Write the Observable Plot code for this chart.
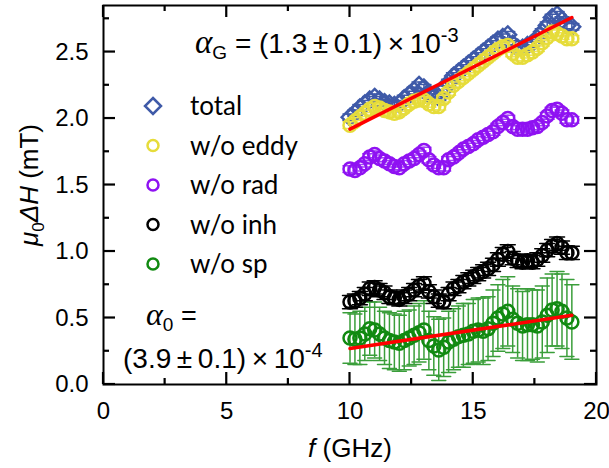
<!DOCTYPE html>
<html><head><meta charset="utf-8">
<script src="https://cdn.jsdelivr.net/npm/d3@7"></script>
<script src="https://cdn.jsdelivr.net/npm/@observablehq/plot@0.6"></script>
<style>body{margin:0;background:#fff} svg{display:block}</style>
</head><body><div id="chart"></div>
<script>
const freq = [10.0,10.2,10.4,10.6,10.8,11.0,11.2,11.4,11.6,11.8,12.0,12.2,12.4,12.6,12.8,13.0,13.2,13.4,13.6,13.8,14.0,14.2,14.4,14.6,14.8,15.0,15.2,15.4,15.6,15.8,16.0,16.2,16.4,16.6,16.8,17.0,17.2,17.4,17.6,17.8,18.0,18.2,18.4,18.6,18.8,19.0];
const total = [2.01,2.04,2.08,2.11,2.14,2.16,2.14,2.12,2.11,2.10,2.11,2.15,2.18,2.21,2.25,2.23,2.18,2.16,2.16,2.22,2.27,2.32,2.35,2.38,2.41,2.44,2.47,2.50,2.53,2.56,2.59,2.61,2.63,2.56,2.53,2.53,2.55,2.57,2.60,2.65,2.70,2.76,2.78,2.74,2.70,2.69];
const woEddy = [1.95,1.98,2.01,2.04,2.07,2.09,2.08,2.06,2.05,2.04,2.05,2.08,2.11,2.13,2.14,2.14,2.11,2.09,2.09,2.15,2.20,2.25,2.28,2.31,2.34,2.37,2.40,2.43,2.46,2.49,2.52,2.54,2.55,2.49,2.46,2.46,2.48,2.50,2.53,2.57,2.61,2.65,2.64,2.62,2.60,2.60];
const woRad = [1.62,1.61,1.63,1.66,1.71,1.73,1.70,1.68,1.66,1.64,1.63,1.66,1.68,1.70,1.73,1.76,1.69,1.65,1.63,1.63,1.69,1.71,1.74,1.77,1.79,1.81,1.84,1.86,1.88,1.90,1.94,1.97,2.00,1.94,1.92,1.92,1.92,1.93,1.94,1.97,2.02,2.06,2.07,2.04,1.99,1.99];
const woInh = [0.62,0.63,0.65,0.68,0.72,0.73,0.71,0.69,0.66,0.65,0.64,0.66,0.68,0.71,0.74,0.76,0.70,0.66,0.63,0.62,0.68,0.72,0.74,0.77,0.79,0.81,0.83,0.85,0.87,0.90,0.94,0.98,1.00,0.95,0.93,0.92,0.93,0.92,0.94,0.97,1.01,1.04,1.06,1.03,0.99,0.99];
const woSp = [0.35,0.34,0.35,0.38,0.42,0.41,0.38,0.35,0.33,0.32,0.31,0.33,0.35,0.37,0.39,0.41,0.33,0.29,0.26,0.28,0.32,0.34,0.36,0.37,0.38,0.40,0.41,0.40,0.42,0.46,0.50,0.53,0.55,0.49,0.46,0.44,0.45,0.45,0.44,0.47,0.52,0.56,0.57,0.55,0.50,0.47];
const woSpErr = [0.19,0.19,0.20,0.20,0.20,0.21,0.20,0.20,0.21,0.21,0.21,0.22,0.21,0.22,0.22,0.22,0.22,0.22,0.23,0.22,0.23,0.23,0.23,0.24,0.23,0.24,0.24,0.25,0.24,0.25,0.25,0.26,0.26,0.25,0.26,0.26,0.27,0.26,0.27,0.27,0.28,0.27,0.28,0.28,0.29,0.28];
const smallErr = 0.025;
const inhErr = 0.05;
const fitF = [10, 19];
const fitTopY = [1.92, 2.76];
const fitBottomY = [0.27, 0.52];
const xMajor = [0, 5, 10, 15, 20];
const xMinor = [2.5, 7.5, 12.5, 17.5];
const yMajor = [0, 0.5, 1.0, 1.5, 2.0, 2.5];
const yMinor = [0.25, 0.75, 1.25, 1.75, 2.25, 2.75];
const xDomain = [0, 20];
const yDomain = [0, 2.85];
const legendLabels = ["total", "w/o eddy", "w/o rad", "w/o inh", "w/o sp"];

const colors = {total: "#3f5aa8", eddy: "#e6dc3a", rad: "#8f12f2", inh: "#000000", sp: "#118a11"};
const errColors = {total: "#3f5aa8", eddy: "#ece45a", rad: "#a040f5", inh: "#000000", sp: "#3a9e3a"};
const axisColor = "#000000";

const W = 609, H = 468, mL = 103, mR = 13, mT = 5, mB = 84;
const kX = (xDomain[1] - xDomain[0]) / (W - mL - mR);
const kY = (yDomain[1] - yDomain[0]) / (H - mT - mB);

function rows(vals, errs) {
  return freq.map((f, i) => ({f, y: vals[i], e: Array.isArray(errs) ? errs[i] : errs}));
}
const dTotal = rows(total, smallErr);
const dEddy = rows(woEddy, smallErr);
const dRad = rows(woRad, smallErr);
const dInh = rows(woInh, inhErr);
const dSp = rows(woSp, woSpErr);
const fitTop = fitF.map((f, i) => ({f, y: fitTopY[i]}));
const fitBottom = fitF.map((f, i) => ({f, y: fitBottomY[i]}));

const capShape = {draw(ctx, l) { ctx.moveTo(-l / 2, 0); ctx.lineTo(l / 2, 0); }};

function errMarks(data, key, capLen) {
  return [
    Plot.ruleX(data, {x: "f", y1: d => d.y - d.e, y2: d => d.y + d.e, stroke: errColors[key], strokeWidth: 1.5}),
    Plot.vector(data, {x: "f", y: d => d.y - d.e, length: capLen, rotate: 0, anchor: "start", shape: capShape, stroke: errColors[key], strokeWidth: 1.5}),
    Plot.vector(data, {x: "f", y: d => d.y + d.e, length: capLen, rotate: 0, anchor: "start", shape: capShape, stroke: errColors[key], strokeWidth: 1.5})
  ];
}
// inward ticks drawn as thin filled rectangles (2 px wide)
const halfW = 1.1;
const tickRectsX = (vals, len) => [
  ...vals.map(v => ({x1: v - halfW * kX, x2: v + halfW * kX, y1: yDomain[0], y2: yDomain[0] + len * kY})),
  ...vals.map(v => ({x1: v - halfW * kX, x2: v + halfW * kX, y1: yDomain[1] - len * kY, y2: yDomain[1]}))
];
const tickRectsY = (vals, len) => [
  ...vals.map(v => ({y1: v - halfW * kY, y2: v + halfW * kY, x1: xDomain[0], x2: xDomain[0] + len * kX})),
  ...vals.map(v => ({y1: v - halfW * kY, y2: v + halfW * kY, x1: xDomain[1] - len * kX, x2: xDomain[1]}))
];
const tickRects = [...tickRectsX(xMajor, 12), ...tickRectsX(xMinor, 6), ...tickRectsY(yMajor, 12), ...tickRectsY(yMinor, 6)];

const chart = Plot.plot({
  width: W, height: H,
  marginLeft: mL, marginRight: mR, marginTop: mT, marginBottom: mB,
  style: {fontFamily: "'Liberation Sans', Arial, sans-serif", fontSize: "24px", color: "black"},
  x: {domain: xDomain},
  y: {domain: yDomain},
  marks: [
    Plot.axisX({ticks: xMajor, tickSize: 0, tickPadding: 17, tickFormat: d3.format("d"), label: null}),
    Plot.axisY({ticks: yMajor, tickSize: 0, tickPadding: 15, tickFormat: d3.format(".1f"), label: null}),
    ...errMarks(dSp, "sp", 14),
    Plot.dot(dSp, {x: "f", y: "y", r: 6.5, stroke: colors.sp, strokeWidth: 2.5, fill: "none"}),
    ...errMarks(dInh, "inh", 15),
    Plot.dot(dInh, {x: "f", y: "y", r: 6.5, stroke: colors.inh, strokeWidth: 2.5, fill: "none"}),
    ...errMarks(dRad, "rad", 14),
    Plot.dot(dRad, {x: "f", y: "y", r: 6.5, stroke: colors.rad, strokeWidth: 2.5, fill: "none"}),
    ...errMarks(dTotal, "total", 14),
    Plot.dot(dTotal, {x: "f", y: "y", r: 7.5, symbol: "diamond2", stroke: colors.total, strokeWidth: 2.5, fill: "none"}),
    ...errMarks(dEddy, "eddy", 14),
    Plot.dot(dEddy, {x: "f", y: "y", r: 6.5, stroke: colors.eddy, strokeWidth: 2.5, fill: "none"}),
    Plot.line(fitTop, {x: "f", y: "y", stroke: "#ff0000", strokeWidth: 3.5}),
    Plot.line(fitBottom, {x: "f", y: "y", stroke: "#ff0000", strokeWidth: 3.5}),
    Plot.rect(tickRects, {x1: "x1", x2: "x2", y1: "y1", y2: "y2", fill: axisColor}),
    Plot.frame({stroke: axisColor, strokeWidth: 2})
  ]
});
document.getElementById("chart").appendChild(chart);

const svg = d3.select(chart);
const sans = "'Liberation Sans', Arial, sans-serif";
const serif = "'Liberation Serif', 'Times New Roman', serif";
function rich(x, y, parts, opts = {}) {
  const t = svg.append("text").attr("x", x).attr("y", y)
    .attr("font-family", opts.family || sans)
    .attr("font-size", opts.size || 24).attr("fill", "#000000")
    .attr("text-anchor", opts.anchor || "start");
  if (opts.transform) t.attr("transform", opts.transform).attr("x", 0).attr("y", 0);
  for (const p of parts) {
    const s = t.append("tspan").text(p.t);
    if (p.italic) s.attr("font-style", "italic");
    if (p.size) s.attr("font-size", p.size);
    if (p.dy) s.attr("dy", p.dy);
    if (p.family) s.attr("font-family", p.family);
  }
  return t;
}
const thin = "\u2009";
rich(350, 457, [{t: "f", italic: true}, {t: " (GHz)"}], {anchor: "middle", size: 26});
rich(0, 0, [{t: "μ", italic: true}, {t: "0", size: 17, dy: 6}, {t: "ΔH", italic: true, dy: -6}, {t: " (mT)"}], {anchor: "middle", size: 26, transform: "translate(38,185) rotate(-90)"});
rich(195, 53, [{t: "α", italic: true, family: serif, size: 33}, {t: "G", size: 19, dy: 6}, {t: " = (1.3" + thin + "±" + thin + "0.1)" + thin + "×" + thin + "10", dy: -6}, {t: "-3", size: 20, dy: -11}], {size: 28});
rich(146, 325, [{t: "α", italic: true, family: serif, size: 32}, {t: "0", size: 19, dy: 6}, {t: " =", dy: -6}], {size: 27});
rich(123, 368, [{t: "(3.9" + thin + "±" + thin + "0.1)" + thin + "×" + thin + "10"}, {t: "-4", size: 20, dy: -11}], {size: 28});

const legendKeys = ["total", "eddy", "rad", "inh", "sp"];
const lg = svg.append("g");
legendLabels.forEach((label, i) => {
  const key = legendKeys[i];
  const cy = 106 + i * 39.5, cx = 153;
  if (key === "total") {
    lg.append("path").attr("d", `M${cx},${cy - 8}L${cx + 8},${cy}L${cx},${cy + 8}L${cx - 8},${cy}Z`)
      .attr("fill", "none").attr("stroke", colors[key]).attr("stroke-width", 2.5);
  } else {
    lg.append("circle").attr("cx", cx).attr("cy", cy).attr("r", 5.5)
      .attr("fill", "none").attr("stroke", colors[key]).attr("stroke-width", 2.5);
  }
  lg.append("text").attr("x", 190).attr("y", cy + 9).attr("text-anchor", "start")
    .attr("font-family", "Lato, 'Open Sans', sans-serif")
    .attr("font-size", 26).attr("fill", "#000000").text(label);
});
</script>
</body></html>
